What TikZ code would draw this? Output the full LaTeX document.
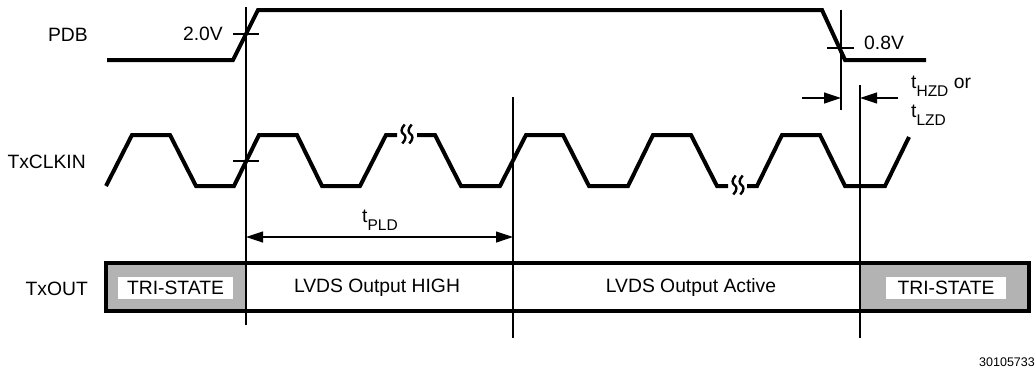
\documentclass[tikz,border=0pt]{standalone}
\usepackage{fontspec}
\setmainfont{Liberation Sans}
\usetikzlibrary{arrows.meta}
\definecolor{busgray}{RGB}{179,179,179}
\tikzset{
  wave/.style={line width=4pt, line join=miter},
  thin/.style={line width=1.2pt},
  lbl/.style={inner sep=0pt, font=\fontsize{19.3}{23}\selectfont},
  dimarrow/.style={thin, -{Triangle[length=17pt,width=11pt]}},
  dimboth/.style={thin, {Triangle[length=17pt,width=11pt]}-{Triangle[length=17pt,width=11pt]}},
  brk/.pic={
    \foreach \dx in {-3.5,3.5}{
      \draw[line width=2.4pt] ([xshift=\dx pt]1.2,-9.5) .. controls ([xshift=\dx pt]-3,-5) and ([xshift=\dx pt]-2.5,-1.5) .. ([xshift=\dx pt]0,0) .. controls ([xshift=\dx pt]2.5,1.5) and ([xshift=\dx pt]3,5) .. ([xshift=\dx pt]-1.2,9.5);
    }
  }
}
\newcommand{\subtxt}[1]{\raisebox{-8.5pt}{\fontsize{15.5}{18}\selectfont #1}}
\begin{document}
\begin{tikzpicture}[x=1pt,y=-1pt]
\useasboundingbox[fill=white] (0,0) rectangle (1035,372);

% signal labels
\node[lbl, anchor=east] (pdb) at (88,35) {PDB};
\node[lbl, anchor=east] (clk) at (86,162) {TxCLKIN};
\node[lbl, anchor=east] (txo) at (88,289) {TxOUT};

% TxOUT bus
\fill[busgray] (106,263) rectangle (246,311);
\fill[busgray] (860,263) rectangle (1029,311);
\draw[line width=4pt] (106,263) rectangle (1029,311);
\node[lbl, fill=white, minimum width=115pt, minimum height=22pt] (ts1) at (175.5,288) {TRI-STATE};
\node[lbl, fill=white, minimum width=120pt, minimum height=22pt] (ts2) at (946,288) {TRI-STATE};
\node[lbl] (hi) at (377,288) {LVDS Output HIGH};
\node[lbl] (act) at (691,288) {LVDS Output Active};

% vertical reference lines
\coordinate (v1t) at (246,7);   \coordinate (v1b) at (246,325);
\coordinate (v2t) at (513,97);  \coordinate (v2b) at (513,338);
\coordinate (v3t) at (860,85);  \coordinate (v3b) at (860,338);
\coordinate (v4t) at (841,10);  \coordinate (v4b) at (841,110);
\draw[thin] (v1t) -- (v1b);
\draw[thin] (v2t) -- (v2b);
\draw[thin] (v3t) -- (v3b);
\draw[thin] (v4t) -- (v4b);

% PDB waveform
\draw[wave] (107,60) -- (233,60) -- (258,10) -- (822,10) -- (845,60) -- (926,60);
\draw[thin] (233,34) -- (259,34);
\node[lbl, anchor=east] (v20) at (223,34) {2.0V};
\draw[thin] (827,48) -- (854,48);
\node[lbl, anchor=west] (v08) at (864,43) {0.8V};

% TxCLKIN waveform
\draw[wave] (106,186) -- (132,135) -- (170,135) -- (196,186) -- (234,186) -- (259,135) -- (297,135) -- (322,186) -- (360,186) -- (386,135) -- (397,135);
\draw[wave] (417,135) -- (435,135) -- (461,186) -- (500,186) -- (526,135) -- (563,135) -- (589,186) -- (628,186) -- (653,135) -- (691,135) -- (717,186) -- (728,186);
\draw[wave] (747,186) -- (757,186) -- (782,135) -- (820,135) -- (845,186) -- (885,186) -- (909,137);
\pic at (407,134) {brk};
\pic at (738,185) {brk};
\draw[thin] (233,161) -- (259,161);

% tPLD
\draw[dimboth] (v1t |- 0,237) -- (v2t |- 0,237);
\node[lbl, anchor=base west] (tpld) at (362,222) {t\subtxt{PLD}};

% tHZD / tLZD
\coordinate (al) at (802,98);
\coordinate (ar) at (898,98);
\draw[dimarrow] (al) -- (v4t |- al);
\draw[dimarrow] (ar) -- (v3t |- ar);
\node[lbl, anchor=base west] (thzd) at (911,88) {t\subtxt{HZD} or};
\node[lbl, anchor=base west] (tlzd) at (911,117) {t\subtxt{LZD}};

% figure number
\node[inner sep=0pt, anchor=east, font=\fontsize{12.5}{15}\selectfont] (fig) at (1035,362) {30105733};
\end{tikzpicture}
\end{document}
